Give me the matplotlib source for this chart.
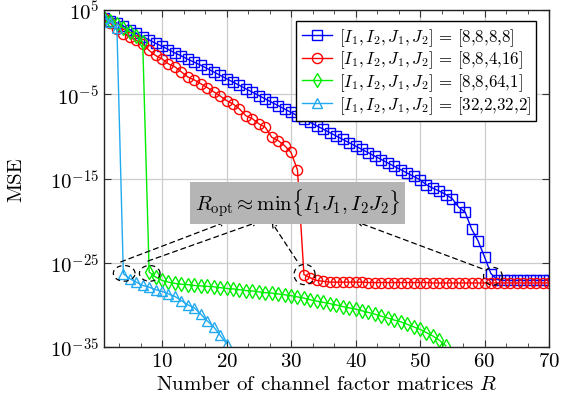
import numpy as np
import matplotlib
matplotlib.use("Agg")
import matplotlib.pyplot as plt

plt.rcParams["font.family"] = "serif"
plt.rcParams["font.serif"] = ["cmr10"]
plt.rcParams["mathtext.fontset"] = "cm"
plt.rcParams["axes.formatter.use_mathtext"] = True
plt.rcParams["axes.unicode_minus"] = False

# log10(MSE), per configuration
blue_R = list(range(1, 71))
blue_log_mse = [4.05, 3.7, 3.45, 3.1, 2.65, 2.25, 1.85, 1.45, 1.05, 0.7,
                0.3, -0.1, -0.45, -0.85, -1.2, -1.55, -1.95, -2.35, -2.75, -3.15,
                -3.55, -3.95, -4.35, -4.75, -5.15, -5.55, -5.95, -6.35, -6.75, -7.15,
                -7.55, -7.95, -8.35, -8.75, -9.15, -9.55, -9.95, -10.35, -10.75, -11.15,
                -11.55, -11.95, -12.35, -12.75, -13.15, -13.55, -13.95, -14.35, -14.75, -15.15,
                -15.75, -16.15, -16.5, -16.9, -17.4, -18.4, -19.0, -21.0, -22.4, -24.3,
                -26.3, -27.0, -27.1, -27.1, -27.1, -27.1, -27.1, -27.1, -27.1, -27.1]

red_R = list(range(1, 71))
red_log_mse = [4.05, 3.4, 2.8, 2.2, 1.8, 1.4, 1.0, 0.2, -0.4, -0.8,
               -1.4, -1.75, -2.35, -2.95, -3.3, -3.75, -4.2, -4.7, -5.2, -5.75,
               -6.15, -6.75, -7.55, -7.9, -8.5, -8.9, -10.1, -10.5, -11.1, -11.9,
               -14.0, -26.4, -26.8, -27.1, -27.2, -27.3, -27.3, -27.3, -27.3, -27.3,
               -27.3, -27.35, -27.35, -27.35, -27.35, -27.35, -27.35, -27.35, -27.35, -27.35,
               -27.35, -27.4, -27.4, -27.4, -27.4, -27.4, -27.4, -27.4, -27.4, -27.4,
               -27.4, -27.4, -27.4, -27.4, -27.4, -27.4, -27.4, -27.4, -27.4, -27.4]

green_R = list(range(1, 55))
green_log_mse = [4.05, 3.7, 3.3, 2.9, 2.4, 1.9, 1.2, -26.1, -26.7, -27.1,
                 -27.3, -27.45, -27.55, -27.6, -27.7, -27.75, -27.8, -27.85, -27.95, -28.05,
                 -28.1, -28.2, -28.3, -28.35, -28.45, -28.55, -28.6, -28.7, -28.8, -28.9,
                 -29.05, -29.2, -29.4, -29.55, -29.7, -29.85, -30.0, -30.2, -30.35, -30.5,
                 -30.7, -30.9, -31.1, -31.35, -31.55, -31.8, -32.0, -32.3, -32.6, -32.9,
                 -33.3, -33.7, -34.2, -34.85]

cyan_R = list(range(1, 21))
cyan_log_mse = [4.05, 3.6, 2.9, -26.3, -26.9, -27.3, -27.7, -27.9, -28.2, -28.4,
                -28.7, -29.0, -29.5, -30.0, -30.35, -31.1, -31.9, -32.6, -33.6, -34.6]

labels = [r"$[I_1,I_2,J_1,J_2]\,=\,[8{,}8{,}8{,}8]$",
          r"$[I_1,I_2,J_1,J_2]\,=\,[8{,}8{,}4{,}16]$",
          r"$[I_1,I_2,J_1,J_2]\,=\,[8{,}8{,}64{,}1]$",
          r"$[I_1,I_2,J_1,J_2]\,=\,[32{,}2{,}32{,}2]$"]

# transition points (R, log10 MSE, half width, half height in decades)
ellipses = [(4.13, -26.26, 1.68, 0.93),
            (8.09, -26.26, 1.6, 0.93),
            (32.1, -26.4, 1.63, 1.2),
            (61.3, -26.6, 1.45, 1.05)]
arrow_starts = [(3.6, -24.9), (7.8, -24.8), (30.9, -24.75), (59.6, -25.7)]
arrow_ends = [(19.9, -20.15), (24.9, -20.15), (27.0, -20.2), (40.2, -20.15)]

fig = plt.figure(figsize=(5.74, 4.06), dpi=100)
ax = fig.add_axes([104 / 574, 58 / 406, 445 / 574, 337 / 406])

series = [(blue_R, blue_log_mse, "#0000ff", "s", 7.0),
          (red_R, red_log_mse, "#ff0000", "o", 7.3),
          (green_R, green_log_mse, "#00ee00", "d", 7.2),
          (cyan_R, cyan_log_mse, "#22aaf0", "^", 6.6)]
for (rr, lm, col, mk, ms), lab in zip(series, labels):
    ax.plot(rr, 10.0 ** np.array(lm), color=col, marker=mk, ms=ms,
            mfc="none", mec=col, mew=1.0, lw=1.0, label=lab)

ax.set_yscale("log")
ax.set_xlim(1, 70)
ax.set_ylim(1e-35, 1e5)
ax.set_xticks([10, 20, 30, 40, 50, 60, 70])
ax.set_xticks(np.arange(10 / 3, 70, 10 / 3), minor=True)
yt = [1e5, 1e-5, 1e-15, 1e-25, 1e-35]
ax.set_yticks(yt)
ax.set_yticklabels([r"$10^{5}$", r"$10^{-5}$", r"$10^{-15}$", r"$10^{-25}$", r"$10^{-35}$"])
ax.yaxis.set_minor_locator(matplotlib.ticker.NullLocator())
ax.tick_params(which="both", direction="in", top=True, right=True,
               labelsize=15, color="#333333")
ax.tick_params(which="major", length=5)
ax.tick_params(which="minor", length=3)
ax.grid(True, which="major", color="#cccccc", lw=0.9)
ax.set_axisbelow(True)
for sp in ax.spines.values():
    sp.set_color("#222222")
    sp.set_linewidth(1.0)

ax.set_xlabel(r"Number of channel factor matrices $R$", fontsize=15)
ax.set_ylabel("MSE", fontsize=15)
ax.yaxis.set_label_coords(-0.178, 0.5)

t = np.linspace(0, 2 * np.pi, 100)
for cx, cy, a, b in ellipses:
    ax.plot(cx + a * np.cos(t), 10.0 ** (cy + b * np.sin(t)),
            color="black", ls=(0, (4, 3)), lw=0.9)

for (sx, sy), (ex, ey) in zip(arrow_starts, arrow_ends):
    ax.annotate("", xy=(ex, 10.0 ** ey), xytext=(sx, 10.0 ** sy),
                arrowprops=dict(arrowstyle="->,head_length=0.3,head_width=0.15",
                                color="black", lw=0.9, ls=(0, (4, 3)),
                                shrinkA=0, shrinkB=0))

ax.text(31.0, 10.0 ** -17.9, r"$R_{\mathrm{opt}} \approx \min\{I_1J_1, I_2J_2\}$",
        fontsize=15, ha="center", va="center",
        bbox=dict(boxstyle="square,pad=0.22", fc="#b5b5b5", ec="none"))

leg = ax.legend(loc="upper right", bbox_to_anchor=(0.971, 0.967), fontsize=12.2,
                fancybox=False, framealpha=1, edgecolor="black",
                handlelength=1.8, handletextpad=0.4, borderaxespad=0,
                borderpad=0.3, labelspacing=0.05)
leg.get_frame().set_linewidth(1.0)

fig.savefig("out.png", dpi=100)
